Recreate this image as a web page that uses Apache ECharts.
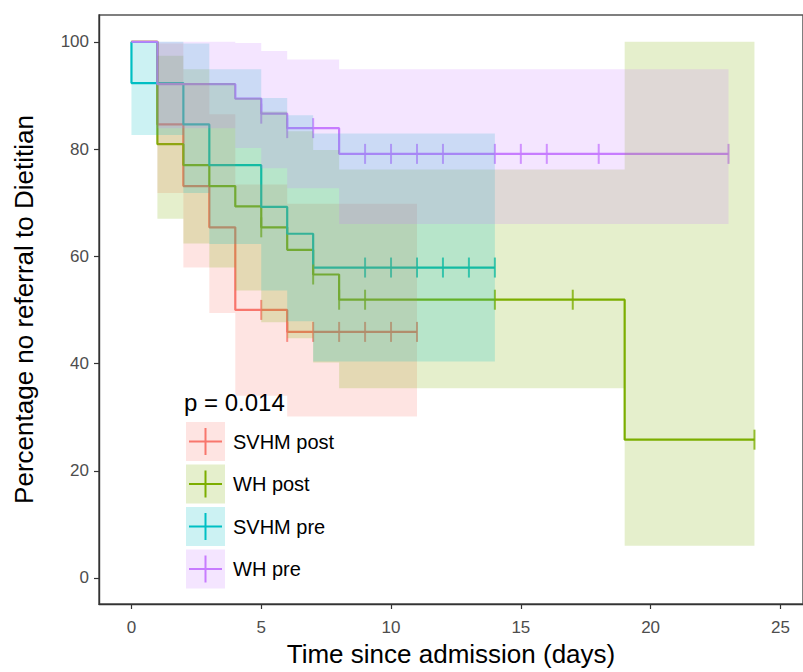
<!DOCTYPE html>
<html><head><meta charset="utf-8">
<script src="https://cdn.jsdelivr.net/npm/echarts@6/dist/echarts.min.js"></script>
<style>html,body{margin:0;padding:0;background:#fff}#c{width:803px;height:672px}</style>
</head><body><div id="c"></div>
<script>
// ---- Data ----
const groups = ['SVHM post', 'WH post', 'SVHM pre', 'WH pre'];

// SVHM post
const svhmPostTime  = [0, 1, 2, 3, 4, 6, 11];
const svhmPostSurv  = [100, 84.6, 73.1, 65.4, 50.0, 45.9, 45.9];
const svhmPostLower = [100, 71.8, 57.9, 49.4, 34.0, 30.1, 30.1];
const svhmPostUpper = [100, 99.7, 92.3, 86.5, 73.4, 69.8, 69.8];
const svhmPostCensorTime = [5, 6, 7, 8, 9, 10, 11];
const svhmPostCensorSurv = [50.0, 45.9, 45.9, 45.9, 45.9, 45.9, 45.9];

// WH post
const whPostTime  = [0, 1, 2, 3, 4, 5, 6, 7, 8, 19, 24];
const whPostSurv  = [100, 80.9, 77.0, 73.1, 69.3, 65.4, 61.2, 56.6, 51.9, 25.8, 25.8];
const whPostLower = [100, 67.0, 62.4, 57.9, 53.6, 47.7, 44.7, 40.2, 35.4, 6.0, 6.0];
const whPostUpper = [100, 97.4, 94.9, 92.3, 89.5, 87.0, 83.3, 79.8, 76.2, 100, 100];
const whPostCensorTime = [5, 7, 8, 9, 14, 17, 24];
const whPostCensorSurv = [65.4, 56.6, 51.9, 51.9, 51.9, 51.9, 25.8];

// SVHM pre
const svhmPreTime  = [0, 0, 2, 3, 5, 6, 7, 14];
const svhmPreSurv  = [100, 92.3, 84.6, 77.0, 69.2, 64.2, 57.9, 57.9];
const svhmPreLower = [100, 82.6, 71.8, 62.3, 53.6, 47.9, 40.4, 40.4];
const svhmPreUpper = [100, 100, 99.7, 94.9, 89.5, 86.3, 82.9, 82.9];
const svhmPreCensorTime = [9, 10, 11, 12, 13, 14];
const svhmPreCensorSurv = [57.9, 57.9, 57.9, 57.9, 57.9, 57.9];

// WH pre
const whPreTime  = [0, 1, 4, 5, 6, 8, 23];
const whPreSurv  = [100, 92.1, 89.4, 86.6, 83.9, 79.1, 79.1];
const whPreLower = [100, 83.9, 80.2, 76.4, 72.7, 66.0, 66.0];
const whPreUpper = [100, 100, 99.8, 98.3, 96.7, 94.9, 94.9];
const whPreCensorTime = [5, 6, 7, 9, 10, 11, 12, 14, 15, 16, 18, 23];
const whPreCensorSurv = [86.6, 83.9, 83.9, 79.1, 79.1, 79.1, 79.1, 79.1, 79.1, 79.1, 79.1, 79.1];

const xTickValues = [0, 5, 10, 15, 20, 25];
const yTickValues = [0, 20, 40, 60, 80, 100];
const pValueText = 'p = 0.014';
const xTitle = 'Time since admission (days)';
const yTitle = 'Percentage no referral to Dietitian';

// ---- Styles ----
const colors = ['#F8766D', '#7CAE00', '#00BFC4', '#C77CFF'];
const keyFills = ['#FEE4E2', '#E5EFCC', '#CCF2F3', '#F4E5FF'];
const FONT = '"Liberation Sans", Arial, Helvetica, sans-serif';

const sets = [
  [svhmPostTime, svhmPostSurv, svhmPostLower, svhmPostUpper, svhmPostCensorTime, svhmPostCensorSurv],
  [whPostTime, whPostSurv, whPostLower, whPostUpper, whPostCensorTime, whPostCensorSurv],
  [svhmPreTime, svhmPreSurv, svhmPreLower, svhmPreUpper, svhmPreCensorTime, svhmPreCensorSurv],
  [whPreTime, whPreSurv, whPreLower, whPreUpper, whPreCensorTime, whPreCensorSurv]
];

const zip = (a, b) => a.map((v, i) => [v, b[i]]);
const bandSeries = [], lineSeries = [], censorSeries = [];
sets.forEach((s, i) => {
  const [t, sv, lo, up, ct, cs] = s;
  const rows = t.map((v, k) => [v, lo[k], up[k]]);
  bandSeries.push({
    type: 'custom', name: groups[i] + ' CI', data: rows, silent: true, z: 3,
    encode: { x: 0, y: [1, 2] },
    renderItem: function (params, api) {
      if (params.dataIndex !== 0) return null;
      const pts = [];
      for (let k = 0; k < rows.length - 1; k++) {
        pts.push(api.coord([rows[k][0], rows[k][2]]));
        pts.push(api.coord([rows[k + 1][0], rows[k][2]]));
      }
      for (let k = rows.length - 2; k >= 0; k--) {
        pts.push(api.coord([rows[k + 1][0], rows[k][1]]));
        pts.push(api.coord([rows[k][0], rows[k][1]]));
      }
      return { type: 'polygon', shape: { points: pts }, style: { fill: colors[i], opacity: 0.2 } };
    }
  });
  lineSeries.push({
    type: 'line', name: groups[i], step: 'end', data: zip(t, sv), symbol: 'none',
    lineStyle: { color: colors[i], width: 2.2 }, itemStyle: { color: colors[i] }, z: 1, silent: true
  });
  censorSeries.push({
    type: 'scatter', name: groups[i] + ' censored', data: zip(ct, cs), symbol: 'rect',
    symbolSize: [2, 20], itemStyle: { color: colors[i] }, z: 2, silent: true
  });
});

const plusIcon = 'path://M0,0L0.01,0L0,0.01ZM39,39L38.99,39L39,38.99ZM3,18.5H36V20.5H3ZM18.5,6H20.5V33H18.5Z';

const chart = echarts.init(document.getElementById('c'), null, { renderer: 'svg' });
chart.setOption({
  animation: false,
  backgroundColor: '#fff',
  textStyle: { fontFamily: FONT },
  title: {
    text: pValueText, left: 184, top: 390, padding: 0,
    textStyle: { fontSize: 24, fontWeight: 'normal', color: '#000', fontFamily: FONT }
  },
  grid: { left: 99, top: 15, right: 0, bottom: 66, show: true, borderColor: '#555', borderWidth: 1.5 },
  xAxis: {
    type: 'value', min: -1.25, max: 25.87,
    name: xTitle, nameLocation: 'middle', nameGap: 37,
    nameTextStyle: { fontSize: 26, color: '#000', fontFamily: FONT },
    axisLine: { onZero: false, lineStyle: { color: '#333', width: 1.4 } },
    axisTick: { show: true, length: 5, customValues: xTickValues, lineStyle: { color: '#333', width: 1.2 } },
    axisLabel: { customValues: xTickValues, fontSize: 17, color: '#4D4D4D', margin: 15, fontFamily: FONT },
    splitLine: { show: false }
  },
  yAxis: {
    type: 'value', min: -4.85, max: 105,
    name: yTitle, nameLocation: 'middle', nameGap: 62, nameRotate: 90,
    nameTextStyle: { fontSize: 26, color: '#000', fontFamily: FONT },
    axisLine: { onZero: false, lineStyle: { color: '#333', width: 1.4 } },
    axisTick: { show: true, length: 5, customValues: yTickValues, lineStyle: { color: '#333', width: 1.2 } },
    axisLabel: { customValues: yTickValues, fontSize: 17, color: '#4D4D4D', margin: 10, fontFamily: FONT },
    splitLine: { show: false }
  },
  legend: [
    {
      orient: 'vertical', left: 186, top: 422, padding: 0, itemWidth: 39, itemHeight: 39, itemGap: 3.5,
      selectedMode: false, z: 4, formatter: () => '',
      data: groups.map((g, i) => ({ name: g, icon: 'rect', itemStyle: { color: keyFills[i], borderWidth: 0 } }))
    },
    {
      orient: 'vertical', left: 186, top: 422, padding: 0, itemWidth: 39, itemHeight: 39, itemGap: 3.5,
      selectedMode: false, z: 5,
      textStyle: { fontSize: 20, color: '#000', fontFamily: FONT, padding: [0, 0, 0, 3] },
      data: groups.map((g, i) => ({ name: g, icon: plusIcon, itemStyle: { color: colors[i], borderWidth: 0 } }))
    }
  ],
  series: [...bandSeries, ...lineSeries, ...censorSeries]
});
</script></body></html>
